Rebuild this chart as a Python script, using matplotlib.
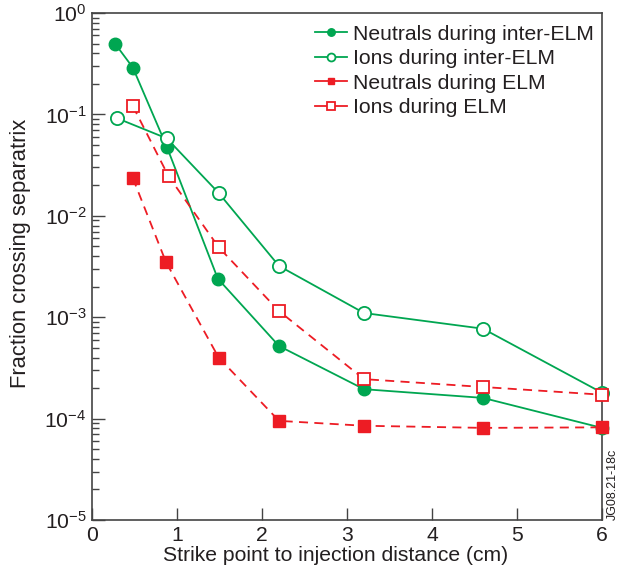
import matplotlib
matplotlib.use("Agg")
import matplotlib.pyplot as plt
from matplotlib.ticker import LogLocator, NullFormatter, FixedLocator

plt.rcParams['font.family'] = ['Liberation Sans', 'DejaVu Sans']

# Data
x_neut_inter = [0.27, 0.48, 0.88, 1.48, 2.2, 3.2, 4.6, 6.0]
y_neut_inter = [0.50, 0.29, 0.048, 0.0024, 5.2e-4, 1.95e-4, 1.6e-4, 8.1e-5]

x_ion_inter = [0.29, 0.88, 1.49, 2.2, 3.2, 4.6, 6.0]
y_ion_inter = [0.092, 0.058, 0.0168, 3.2e-3, 1.1e-3, 7.7e-4, 1.8e-4]

x_neut_elm = [0.48, 0.87, 1.49, 2.2, 3.2, 4.6, 6.0]
y_neut_elm = [0.0236, 3.5e-3, 4.0e-4, 9.5e-5, 8.5e-5, 8.1e-5, 8.2e-5]

x_ion_elm = [0.48, 0.9, 1.49, 2.2, 3.2, 4.6, 6.0]
y_ion_elm = [0.121, 0.0246, 4.9e-3, 1.15e-3, 2.45e-4, 2.05e-4, 1.72e-4]

labels = ["Neutrals during inter-ELM", "Ions during inter-ELM",
          "Neutrals during ELM", "Ions during ELM"]
xticks = [0, 1, 2, 3, 4, 5, 6]

GREEN = '#00a651'
RED = '#ed1c24'
TXT = '#231f20'
FS = 15.2

fig = plt.figure(figsize=(6.23, 5.76), dpi=100)
ax = fig.add_axes([92/623, 56/576, 510/623, 507/576])

ax.plot(x_neut_inter, y_neut_inter, '-', color=GREEN, lw=1.3, marker='o',
        ms=9, mfc=GREEN, mec=GREEN, label=labels[0], clip_on=False, zorder=3)
ax.plot(x_ion_inter, y_ion_inter, '-', color=GREEN, lw=1.3, marker='o',
        ms=9.5, mfc='white', mec=GREEN, mew=1.3, label=labels[1], clip_on=False, zorder=3)
ax.plot(x_neut_elm, y_neut_elm, '--', color=RED, lw=1.3, marker='s',
        ms=8, mfc=RED, mec=RED, dashes=(5, 3.5), label=labels[2], clip_on=False, zorder=4)
ax.plot(x_ion_elm, y_ion_elm, '--', color=RED, lw=1.3, marker='s',
        ms=8.5, mfc='white', mec=RED, mew=1.3, dashes=(5, 3.5), label=labels[3],
        clip_on=False, zorder=4)

ax.set_yscale('log')
ax.set_xlim(0, 6)
ax.set_ylim(1e-5, 1)
ax.xaxis.set_major_locator(FixedLocator(xticks))
ax.yaxis.set_major_locator(LogLocator(base=10, numticks=10))
ax.yaxis.set_minor_locator(LogLocator(base=10, subs=range(2, 10), numticks=20))
ax.yaxis.set_minor_formatter(NullFormatter())

ax.tick_params(axis='both', which='major', direction='in', length=9, width=1,
               labelsize=FS, colors='#444444', labelcolor=TXT, pad=4)
ax.tick_params(axis='y', which='minor', direction='in', length=5, width=1,
               colors='#444444')
ax.tick_params(top=False, right=False, which='both')
for s in ax.spines.values():
    s.set_color('#444444')
    s.set_linewidth(1.2)

ax.set_xlabel('Strike point to injection distance (cm)', fontsize=FS, color=TXT)
ax.set_ylabel('Fraction crossing separatrix', fontsize=15.8, color=TXT)
ax.xaxis.set_label_coords(0.478, -0.052)
ax.yaxis.set_label_coords(-0.12, 0.525)

leg = ax.legend(loc='upper right', frameon=False, fontsize=FS, markerscale=0.6,
                handlelength=1.5, handletextpad=0.3, labelspacing=0.26,
                borderaxespad=0.35, bbox_to_anchor=(1.016, 1.008))
for t in leg.get_texts():
    t.set_color(TXT)
for ln in leg.get_lines():
    ln.set_linestyle('-')

fig.text(613/623, 1 - 520/576, 'JG08.21-18c', rotation=90, fontsize=9,
         color=TXT, ha='center', va='bottom')

fig.savefig('out.png', dpi=100)
